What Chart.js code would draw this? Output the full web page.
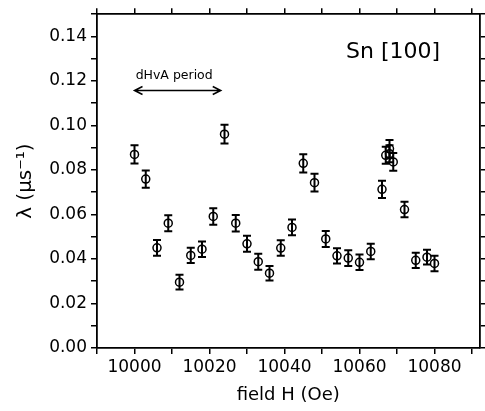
<!DOCTYPE html>
<html>
<head>
<meta charset="utf-8">
<script src="https://cdn.jsdelivr.net/npm/chart.js"></script>
<style>
  body { margin: 0; background: #fff; }
</style>
</head>
<body>
<canvas id="myChart" width="485" height="411"></canvas>
<script>
// field H (Oe)
const fields = [10000, 10003, 10006, 10009, 10012, 10015, 10018, 10021, 10024, 10027,
  10030, 10033, 10036, 10039, 10042, 10045, 10048, 10051, 10054, 10057,
  10060, 10063, 10066, 10067, 10068, 10068, 10069, 10072, 10075, 10078, 10080];
// relaxation rate lambda (us^-1)
const lambdas = [0.0870, 0.0759, 0.0450, 0.0561, 0.0296, 0.0416, 0.0444, 0.0591, 0.0961, 0.0561,
  0.0468, 0.0388, 0.0336, 0.0449, 0.0542, 0.0830, 0.0743, 0.0490, 0.0414, 0.0404,
  0.0385, 0.0434, 0.0713, 0.0866, 0.0895, 0.0873, 0.0836, 0.0622, 0.0394, 0.0408, 0.0380];
const errors = [0.0041, 0.0039, 0.0035, 0.0036, 0.0033, 0.0034, 0.0035, 0.0037, 0.0042, 0.0037,
  0.0036, 0.0036, 0.0033, 0.0035, 0.0035, 0.0041, 0.0040, 0.0036, 0.0034, 0.0035,
  0.0035, 0.0035, 0.0039, 0.0038, 0.0040, 0.0038, 0.0040, 0.0035, 0.0034, 0.0033, 0.0035];

const arrowFrom = 10000, arrowTo = 10023, arrowY = 0.1157;
const labelText = "dHvA period";
const sampleText = "Sn [100]";

const points = fields.map((f, i) => ({ x: f, y: lambdas[i] }));

const errorBars = {
  id: "errorBars",
  beforeDatasetsDraw(chart) {
    const ctx = chart.ctx;
    const xs = chart.scales.x, ys = chart.scales.y;
    ctx.save();
    ctx.strokeStyle = "#000";
    ctx.lineWidth = 2;
    fields.forEach((f, i) => {
      const px = xs.getPixelForValue(f);
      const top = ys.getPixelForValue(lambdas[i] + errors[i]);
      const bot = ys.getPixelForValue(lambdas[i] - errors[i]);
      ctx.beginPath();
      ctx.moveTo(px, top); ctx.lineTo(px, bot);
      ctx.moveTo(px - 4, top); ctx.lineTo(px + 4, top);
      ctx.moveTo(px - 4, bot); ctx.lineTo(px + 4, bot);
      ctx.stroke();
    });
    ctx.restore();
  },
  afterDatasetsDraw(chart) {
    const ctx = chart.ctx;
    const xs = chart.scales.x, ys = chart.scales.y;
    ctx.save();
    ctx.fillStyle = "#000";
    ctx.strokeStyle = "#000";
    // period arrow
    const x1 = xs.getPixelForValue(arrowFrom), x2 = xs.getPixelForValue(arrowTo);
    const y = ys.getPixelForValue(arrowY);
    ctx.lineWidth = 1.5;
    ctx.beginPath();
    ctx.moveTo(x1, y); ctx.lineTo(x2, y);
    ctx.moveTo(x1 + 8, y - 4); ctx.lineTo(x1, y); ctx.lineTo(x1 + 8, y + 4);
    ctx.moveTo(x2 - 8, y - 4); ctx.lineTo(x2, y); ctx.lineTo(x2 - 8, y + 4);
    ctx.stroke();
    ctx.font = "12.5px 'DejaVu Sans'";
    ctx.textBaseline = "alphabetic";
    ctx.fillText(labelText, xs.getPixelForValue(10000.3), ys.getPixelForValue(0.1210));
    ctx.font = "22px 'DejaVu Sans'";
    ctx.fillText(sampleText, xs.getPixelForValue(10056.4), ys.getPixelForValue(0.1304));
    ctx.restore();
  }
};

const axisLine = { color: "#000", width: 1.8 };
const tickGrid = { drawOnChartArea: false, color: "#000", lineWidth: 1.5, tickLength: 6 };

new Chart(document.getElementById("myChart"), {
  type: "scatter",
  data: {
    datasets: [{
      data: points,
      pointStyle: "circle",
      pointRadius: 4,
      pointBorderWidth: 1.5,
      pointBorderColor: "#000",
      pointBackgroundColor: "rgba(0,0,0,0)",
      showLine: false
    }]
  },
  options: {
    responsive: false,
    animation: false,
    layout: { padding: 0 },
    plugins: { legend: { display: false }, tooltip: { enabled: false } },
    scales: {
      x: {
        type: "linear", position: "bottom", min: 9990, max: 10092,
        border: axisLine, grid: tickGrid,
        ticks: {
          stepSize: 10, includeBounds: false, color: "#000", padding: 3, maxRotation: 0,
          autoSkip: false, font: { family: "DejaVu Sans", size: 17 },
          callback: v => (v % 20 === 0 ? String(v) : "")
        },
        title: {
          display: true, text: "field H (Oe)", color: "#000",
          font: { family: "DejaVu Sans", size: 18 }, padding: { top: 0, bottom: 5 }
        },
        afterFit: s => { s.height = 63; }
      },
      x2: {
        type: "linear", position: "top", min: 9990, max: 10092,
        border: axisLine, grid: tickGrid,
        ticks: { stepSize: 10, includeBounds: false, callback: () => "" },
        afterFit: s => { s.height = 11; }
      },
      y: {
        type: "linear", position: "left", min: 0, max: 0.15,
        border: axisLine, grid: tickGrid,
        ticks: {
          stepSize: 0.01, color: "#000", padding: 4, autoSkip: false,
          font: { family: "DejaVu Sans", size: 17 },
          callback: v => (Math.round(v * 100) % 2 === 0 ? v.toFixed(2) : "")
        },
        title: {
          display: true, text: "λ (μs⁻¹)", color: "#000",
          font: { family: "DejaVu Sans", size: 20 }, padding: { top: 14, bottom: 0 }
        },
        afterFit: s => { s.width = 97; }
      },
      y2: {
        type: "linear", position: "right", min: 0, max: 0.15,
        border: axisLine, grid: tickGrid,
        ticks: { stepSize: 0.01, callback: () => "" },
        afterFit: s => { s.width = 2; }
      }
    }
  },
  plugins: [errorBars]
});
</script>
</body>
</html>
